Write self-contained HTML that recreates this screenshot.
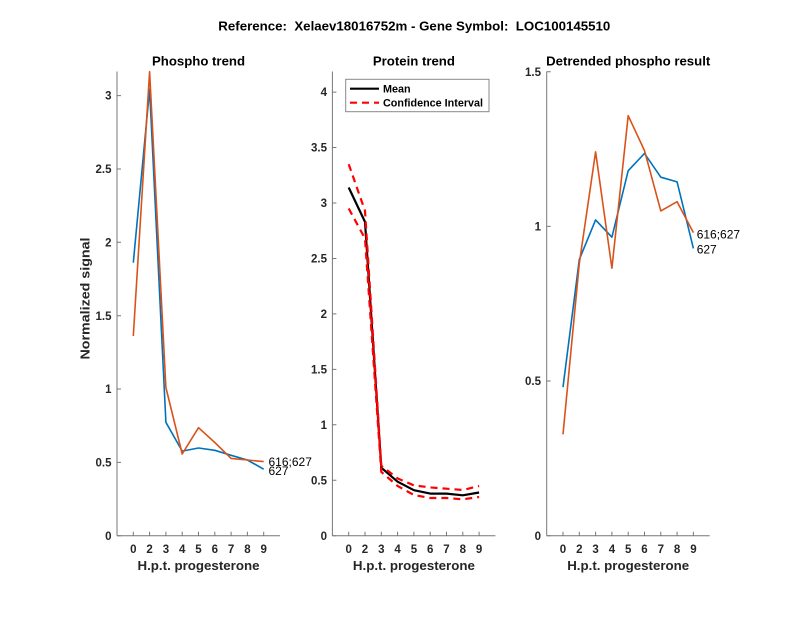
<!DOCTYPE html>
<html><head><meta charset="utf-8"><style>
html,body{margin:0;padding:0;background:#fff;}
svg{display:block;}
text{font-family:"Liberation Sans",Arial,sans-serif;fill:#262626;}
.t{font-weight:bold;font-size:13.2px;fill:#000;}
.tk{font-weight:bold;font-size:11.5px;}
.lb{font-weight:bold;font-size:13.3px;}
.an{font-size:12px;fill:#000;}
</style></head><body>
<svg width="800" height="618" viewBox="0 0 800 618" xmlns="http://www.w3.org/2000/svg">
<rect width="800" height="618" fill="#fff"/>
<text class="t" x="218.3" y="30.5" xml:space="preserve" style="white-space:pre" textLength="392" lengthAdjust="spacingAndGlyphs">Reference:  Xelaev18016752m - Gene Symbol:  LOC100145510</text>

<!-- ===== Plot 1 ===== -->
<g>
<text class="t" x="198.5" y="65.5" text-anchor="middle">Phospho trend</text>
<g stroke="#777" stroke-width="1" fill="none">
<line x1="117" y1="71.5" x2="117" y2="535.7"/>
<line x1="117" y1="535.7" x2="280" y2="535.7"/>
<path d="M117 535.7h4M117 462.4h4M117 389h4M117 315.7h4M117 242.3h4M117 169h4M117 95.6h4"/>
<path d="M133.3 535.7v-4M149.6 535.7v-4M165.9 535.7v-4M182.2 535.7v-4M198.5 535.7v-4M214.8 535.7v-4M231.1 535.7v-4M247.4 535.7v-4M263.7 535.7v-4"/>
</g>
<g text-anchor="end">
<text class="tk" x="111.5" y="539.8">0</text>
<text class="tk" x="111.5" y="466.5">0.5</text>
<text class="tk" x="111.5" y="393.1">1</text>
<text class="tk" x="111.5" y="319.8">1.5</text>
<text class="tk" x="111.5" y="246.4">2</text>
<text class="tk" x="111.5" y="173.1">2.5</text>
<text class="tk" x="111.5" y="99.7">3</text>
</g>
<g text-anchor="middle">
<text class="tk" x="133.3" y="553">0</text>
<text class="tk" x="149.6" y="553">2</text>
<text class="tk" x="165.9" y="553">3</text>
<text class="tk" x="182.2" y="553">4</text>
<text class="tk" x="198.5" y="553">5</text>
<text class="tk" x="214.8" y="553">6</text>
<text class="tk" x="231.1" y="553">7</text>
<text class="tk" x="247.4" y="553">8</text>
<text class="tk" x="263.7" y="553">9</text>
</g>
<text class="lb" x="198.5" y="570" text-anchor="middle" textLength="122" lengthAdjust="spacingAndGlyphs">H.p.t. progesterone</text>
<text class="lb" transform="translate(89.5,298.5) rotate(-90)" x="0" y="0" text-anchor="middle" textLength="122" lengthAdjust="spacingAndGlyphs">Normalized signal</text>
<polyline fill="none" stroke="#0072BD" stroke-width="1.6" stroke-linejoin="round" points="133.3,262.7 149.6,89.3 165.9,422.3 182.2,451.1 198.5,448 214.8,450.3 231.1,455.3 247.4,460 263.7,469.2"/>
<polyline fill="none" stroke="#D95319" stroke-width="1.6" stroke-linejoin="round" points="133.3,336 149.6,71.7 165.9,387.5 182.2,454 198.5,427.7 214.8,442.5 231.1,458.4 247.4,460 263.7,461.6"/>
<text class="an" x="268.5" y="466">616;627</text>
<text class="an" x="268.5" y="474.8">627</text>
</g>

<!-- ===== Plot 2 ===== -->
<g>
<text class="t" x="413.9" y="65.5" text-anchor="middle">Protein trend</text>
<g stroke="#777" stroke-width="1" fill="none">
<line x1="332.4" y1="71.5" x2="332.4" y2="535.7"/>
<line x1="332.4" y1="535.7" x2="495.4" y2="535.7"/>
<path d="M332.4 535.7h4M332.4 480.25h4M332.4 424.8h4M332.4 369.35h4M332.4 313.9h4M332.4 258.45h4M332.4 203h4M332.4 147.55h4M332.4 92.1h4"/>
<path d="M348.7 535.7v-4M365 535.7v-4M381.3 535.7v-4M397.6 535.7v-4M413.9 535.7v-4M430.2 535.7v-4M446.5 535.7v-4M462.8 535.7v-4M479.1 535.7v-4"/>
</g>
<g text-anchor="end">
<text class="tk" x="327" y="539.8">0</text>
<text class="tk" x="327" y="484.4">0.5</text>
<text class="tk" x="327" y="428.9">1</text>
<text class="tk" x="327" y="373.5">1.5</text>
<text class="tk" x="327" y="318">2</text>
<text class="tk" x="327" y="262.6">2.5</text>
<text class="tk" x="327" y="207.1">3</text>
<text class="tk" x="327" y="151.7">3.5</text>
<text class="tk" x="327" y="96.2">4</text>
</g>
<g text-anchor="middle">
<text class="tk" x="348.7" y="553">0</text>
<text class="tk" x="365" y="553">2</text>
<text class="tk" x="381.3" y="553">3</text>
<text class="tk" x="397.6" y="553">4</text>
<text class="tk" x="413.9" y="553">5</text>
<text class="tk" x="430.2" y="553">6</text>
<text class="tk" x="446.5" y="553">7</text>
<text class="tk" x="462.8" y="553">8</text>
<text class="tk" x="479.1" y="553">9</text>
</g>
<text class="lb" x="413.9" y="570" text-anchor="middle" textLength="122" lengthAdjust="spacingAndGlyphs">H.p.t. progesterone</text>
<polyline fill="none" stroke="#000" stroke-width="2.2" stroke-linejoin="round" points="348.7,187.5 365,221.9 381.3,467.7 397.6,481.7 413.9,490.2 430.2,493.6 446.5,493.6 462.8,495.3 479.1,492.5"/>
<polyline fill="none" stroke="#FF0000" stroke-width="2.2" stroke-dasharray="7,5" points="348.7,164.2 365,210.8 381.3,465.8 397.6,478.4 413.9,485.4 430.2,487.4 446.5,488.7 462.8,490 479.1,486"/>
<polyline fill="none" stroke="#FF0000" stroke-width="2.2" stroke-dasharray="7,5" points="348.7,208.5 365,238.5 381.3,471.9 397.6,486 413.9,495 430.2,498 446.5,498 462.8,499.3 479.1,497"/>
<!-- legend -->
<rect x="345.7" y="79.3" width="143.3" height="32.4" fill="#fff" stroke="#888" stroke-width="1"/>
<line x1="350" y1="88.7" x2="379" y2="88.7" stroke="#000" stroke-width="2.2"/>
<line x1="350" y1="102.7" x2="379" y2="102.7" stroke="#FF0000" stroke-width="2.2" stroke-dasharray="7,5"/>
<text x="383" y="92.6" style="font-weight:bold;font-size:10.8px;fill:#000">Mean</text>
<text x="383" y="106.6" style="font-weight:bold;font-size:10.8px;fill:#000" textLength="100" lengthAdjust="spacingAndGlyphs">Confidence Interval</text>
</g>

<!-- ===== Plot 3 ===== -->
<g>
<text class="t" x="628.2" y="65.5" text-anchor="middle">Detrended phospho result</text>
<g stroke="#777" stroke-width="1" fill="none">
<line x1="546.7" y1="71.5" x2="546.7" y2="535.7"/>
<line x1="546.7" y1="535.7" x2="709.7" y2="535.7"/>
<path d="M546.7 535.7h4M546.7 381.05h4M546.7 226.4h4M546.7 71.75h4"/>
<path d="M563 535.7v-4M579.3 535.7v-4M595.6 535.7v-4M611.9 535.7v-4M628.2 535.7v-4M644.5 535.7v-4M660.8 535.7v-4M677.1 535.7v-4M693.4 535.7v-4"/>
</g>
<g text-anchor="end">
<text class="tk" x="541" y="539.8">0</text>
<text class="tk" x="541" y="385.2">0.5</text>
<text class="tk" x="541" y="230.5">1</text>
<text class="tk" x="541" y="75.9">1.5</text>
</g>
<g text-anchor="middle">
<text class="tk" x="563" y="553">0</text>
<text class="tk" x="579.3" y="553">2</text>
<text class="tk" x="595.6" y="553">3</text>
<text class="tk" x="611.9" y="553">4</text>
<text class="tk" x="628.2" y="553">5</text>
<text class="tk" x="644.5" y="553">6</text>
<text class="tk" x="660.8" y="553">7</text>
<text class="tk" x="677.1" y="553">8</text>
<text class="tk" x="693.4" y="553">9</text>
</g>
<text class="lb" x="628.2" y="570" text-anchor="middle" textLength="122" lengthAdjust="spacingAndGlyphs">H.p.t. progesterone</text>
<polyline fill="none" stroke="#0072BD" stroke-width="1.6" stroke-linejoin="round" points="563,387.2 579.3,259.5 595.6,219.9 611.9,237.2 628.2,170.7 644.5,153.4 660.8,177.2 677.1,181.9 693.4,248.4"/>
<polyline fill="none" stroke="#D95319" stroke-width="1.6" stroke-linejoin="round" points="563,434.3 579.3,263.5 595.6,151.9 611.9,268.2 628.2,115.7 644.5,150.6 660.8,210.9 677.1,201.7 693.4,232.6"/>
<text class="an" x="696.7" y="238.5">616;627</text>
<text class="an" x="696.7" y="253.5">627</text>
</g>
</svg>
</body></html>
